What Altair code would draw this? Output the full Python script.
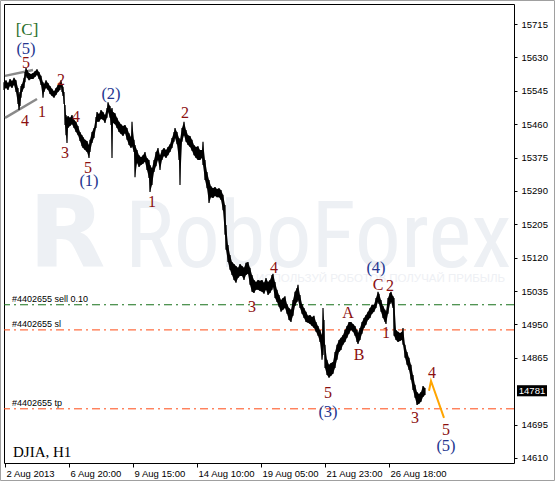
import altair as alt
import pandas as pd

# ---- DJIA H1 price bars: bar index, high, low ----
bar_idx = [0, 2, 4, 6, 8, 10, 12, 14, 15, 16, 17, 18, 20, 21, 22, 23, 25, 27, 29, 31,
           33, 35, 37, 39, 40, 42, 44, 46, 48, 50, 52, 54, 56, 57, 58, 59, 60, 61, 62, 63,
           64, 66, 68, 70, 72, 74, 76, 78, 79, 81, 83, 85, 86, 88, 90, 92, 93, 95, 97, 99,
           101, 103, 104, 106, 107, 108, 109, 111, 113, 115, 117, 119, 121, 123, 125, 127, 128, 130, 131, 133,
           135, 137, 139, 141, 143, 145, 146, 148, 150, 152, 154, 156, 158, 160, 162, 164, 166, 168, 170, 171,
           173, 175, 176, 178, 180, 182, 184, 186, 188, 190, 192, 194, 196, 198, 199, 201, 203, 205, 207, 209,
           211, 213, 215, 217, 219, 221, 222, 224, 226, 228, 230, 232, 234, 236, 238, 240, 242, 244, 246, 248,
           250, 252, 254, 256, 258, 260, 262, 264, 266, 268, 269, 271, 273, 275, 277, 279, 281, 283, 285, 287,
           289, 291, 293, 294, 296, 298, 300, 302, 304, 306, 308, 310, 312, 314, 316, 318, 319, 320, 321, 323,
           325, 327, 329, 331, 333, 335, 337, 339, 341, 343, 345, 347, 349, 351, 353, 354, 356, 358, 360, 362,
           364, 366, 368, 370, 372, 374, 375, 377, 379, 381, 382, 384, 386, 387, 389, 390, 392, 394, 396, 398,
           399, 401, 403, 405, 407, 409, 411, 413, 415, 417, 419, 421]
bar_high = [15567, 15572, 15565, 15575, 15570, 15578, 15572, 15552, 15534, 15542, 15557, 15562, 15578, 15593, 15603, 15598, 15590, 15588, 15590, 15595,
            15600, 15593, 15583, 15567, 15562, 15572, 15565, 15557, 15550, 15544, 15552, 15560, 15565, 15572, 15562, 15555, 15542, 15509, 15483, 15476,
            15481, 15476, 15483, 15471, 15466, 15455, 15440, 15432, 15427, 15420, 15417, 15407, 15420, 15440, 15450, 15478, 15491, 15486, 15496, 15491,
            15483, 15501, 15516, 15506, 15496, 15501, 15491, 15488, 15476, 15466, 15460, 15455, 15458, 15450, 15437, 15427, 15466, 15420, 15407, 15394,
            15381, 15376, 15381, 15389, 15374, 15369, 15356, 15348, 15369, 15389, 15399, 15381, 15394, 15399, 15394, 15402, 15409, 15425, 15440, 15450,
            15440, 15425, 15420, 15450, 15466, 15445, 15432, 15430, 15420, 15407, 15402, 15404, 15394, 15394, 15415, 15369, 15338, 15318, 15302, 15297,
            15300, 15295, 15297, 15292, 15280, 15254, 15203, 15152, 15127, 15109, 15104, 15099, 15094, 15104, 15099, 15094, 15107, 15109, 15094, 15076,
            15063, 15058, 15063, 15061, 15063, 15056, 15068, 15058, 15063, 15076, 15079, 15058, 15038, 15025, 15012, 15017, 15022, 15002, 14992, 14987,
            15012, 15033, 15043, 15051, 15025, 15002, 14992, 14982, 14972, 14974, 14969, 14972, 14956, 14946, 14936, 14923, 14992, 14961, 14898, 14860,
            14847, 14852, 14854, 14880, 14898, 14910, 14916, 14923, 14936, 14946, 14956, 14956, 14951, 14946, 14936, 14928, 14941, 14956, 14966, 14974,
            14982, 14992, 15000, 15000, 15017, 15033, 15028, 15012, 14997, 14987, 14982, 15017, 15030, 15033, 15022, 15017, 14936, 14931, 14928, 14931,
            14941, 14898, 14880, 14865, 14847, 14821, 14796, 14778, 14773, 14778, 14793, 14788]
bar_low = [15547, 15552, 15547, 15557, 15552, 15560, 15542, 15511, 15496, 15506, 15527, 15542, 15552, 15567, 15583, 15578, 15572, 15575, 15575, 15580,
           15585, 15575, 15560, 15527, 15542, 15552, 15547, 15537, 15532, 15527, 15534, 15542, 15547, 15555, 15542, 15532, 15511, 15458, 15432, 15412,
           15450, 15455, 15460, 15450, 15440, 15432, 15417, 15404, 15399, 15394, 15389, 15374, 15389, 15412, 15425, 15450, 15466, 15466, 15473, 15471,
           15463, 15476, 15491, 15476, 15458, 15374, 15463, 15460, 15450, 15440, 15435, 15430, 15437, 15420, 15407, 15399, 15404, 15389, 15325, 15361,
           15351, 15356, 15359, 15364, 15343, 15323, 15287, 15305, 15338, 15353, 15369, 15343, 15369, 15379, 15374, 15381, 15389, 15399, 15415, 15425,
           15409, 15369, 15305, 15415, 15432, 15415, 15407, 15402, 15392, 15381, 15374, 15369, 15369, 15374, 15356, 15318, 15297, 15259, 15274, 15272,
           15277, 15274, 15274, 15267, 15241, 15178, 15140, 15109, 15089, 15076, 15063, 15056, 15068, 15073, 15073, 15063, 15076, 15079, 15051, 15033,
           15030, 15038, 15038, 15035, 15033, 15028, 15038, 15025, 15030, 15038, 15045, 15017, 15007, 14995, 14982, 14987, 14992, 14977, 14961, 14956,
           14972, 14997, 15007, 15012, 14992, 14977, 14966, 14956, 14954, 14951, 14946, 14941, 14931, 14921, 14905, 14860, 14872, 14898, 14839, 14821,
           14814, 14819, 14824, 14839, 14860, 14880, 14885, 14898, 14905, 14916, 14926, 14936, 14931, 14921, 14905, 14900, 14910, 14926, 14941, 14949,
           14961, 14966, 14977, 14982, 14992, 15007, 15002, 14982, 14966, 14956, 14951, 14977, 15002, 15007, 14992, 14921, 14910, 14905, 14908, 14910,
           14898, 14865, 14847, 14834, 14809, 14783, 14763, 14745, 14748, 14753, 14765, 14770]
last_price = 14781

# ---- order levels ----
level_names = ["#4402655 sell 0.10", "#4402655 sl", "#4402655 tp"]
level_prices = [15000, 14936, 14735]
level_colors = ["#17701a", "#ff4a14", "#ff4a14"]

# ---- ending diagonal channel and projected path ----
channel_side = ["upper", "upper", "lower", "lower"]
channel_bar = [1, 29, 1, 33]
channel_price = [15583, 15598, 15476, 15524]

proj_bar = [425, 427, 440]
proj_price = [14781, 14806, 14712]

# ---- Elliott wave labels ----
minor_text = ["5", "4", "1", "2", "4", "3", "5", "2", "1", "4", "3", "5", "A", "B", "C", "2", "1", "3", "4", "5"]
minor_bar = [22, 21, 38, 57, 72, 61, 84, 181, 148, 270, 248, 324, 344, 355, 374, 386, 382, 411, 428, 442]
minor_price = [15616, 15468, 15491, 15572, 15478, 15387, 15348, 15488, 15262, 15094, 14995, 14775, 14979, 14872,
               15051, 15048, 14928, 14712, 14826, 14681]

inter_text = ["(5)", "(1)", "(2)", "(3)", "(4)", "(5)"]
inter_bar = [22, 85, 107, 324, 372, 442]
inter_price = [15651, 15315, 15537, 14727, 15094, 14640]

cycle_text = ["[C]"]
cycle_bar = [23]
cycle_price = [15700]

# ---- axes ----
x_tick_bars = [1, 65, 129, 193, 257, 321, 385]
x_tick_labels = ["2 Aug 2013", "6 Aug 20:00", "9 Aug 15:00", "14 Aug 10:00",
                 "19 Aug 05:00", "21 Aug 23:00", "26 Aug 18:00"]
y_ticks = [14610, 14695, 14865, 14950, 15035, 15120, 15205, 15290,
           15375, 15460, 15545, 15630, 15715]

SANS = "Liberation Sans, Arial, sans-serif"
SERIF = "Liberation Serif, Times New Roman, serif"

xs = alt.Scale(domain=[0, 510], nice=False, zero=False)
ys = alt.Scale(domain=[14597, 15766], nice=False, zero=False)

label_expr = ("[" + ",".join("'%s'" % t for t in x_tick_labels) + "][indexof(["
              + ",".join(str(v) for v in x_tick_bars) + "], datum.value)]")

x_axis = alt.Axis(values=x_tick_bars, labelExpr=label_expr, title=None, grid=False,
                  domain=False, tickSize=4, tickColor="black", labelAlign="left",
                  labelOffset=1, labelPadding=1, labelFont=SANS, labelFontSize=9.5,
                  labelColor="black", labelFlush=False, labelOverlap=False)
y_axis = alt.Axis(values=y_ticks, orient="right", format="d", title=None, grid=False,
                  domain=False, tickSize=3, tickColor="black", labelPadding=4,
                  labelFont=SANS, labelFontSize=9.5, labelColor="black",
                  labelFlush=False, labelOverlap=False)


def X(field):
    return alt.X(field, scale=xs, axis=x_axis)


def Y(field):
    return alt.Y(field, scale=ys, axis=y_axis)


one = pd.DataFrame({"k": [0]})

# faint brand watermark
wm_logo = alt.Chart(one).mark_text(
    text="R", font="DejaVu Sans", fontWeight="bold", fontSize=100, color="#edf0f4",
    align="center", baseline="alphabetic"
).encode(x=alt.value(63), y=alt.value(263))
wm_word = alt.Chart(one).mark_text(
    text="RoboForex", font="Liberation Sans Narrow, Roboto Condensed, Roboto, sans-serif",
    fontSize=92, color="#edf0f4", align="left", baseline="alphabetic"
).encode(x=alt.value(121), y=alt.value(263))
wm_tag = alt.Chart(one).mark_text(
    text="ИСПОЛЬЗУЙ РОБОТОВ ПОЛУЧАЙ ПРИБЫЛЬ", font=SANS, fontSize=11.5,
    color="#eef0f4", align="left", baseline="middle"
).encode(x=alt.value(252), y=alt.value(275))

# outer window frame
frame = alt.Chart(one).mark_rect(fillOpacity=0, stroke="#a0a0a0", strokeWidth=1).encode(
    x=alt.value(-3.5), x2=alt.value(550.5), y=alt.value(-3.5), y2=alt.value(476.5))

levels_df = pd.DataFrame({"name": level_names, "price": level_prices, "color": level_colors})
level_rules = alt.Chart(levels_df).mark_rule(strokeDash=[8, 4, 2, 4], strokeWidth=1).encode(
    y=Y("price:Q"),
    color=alt.Color("color:N", scale=None))
level_text = alt.Chart(levels_df).mark_text(
    align="left", baseline="bottom", dy=-1, font=SANS, fontSize=9, color="black"
).encode(x=alt.value(8), y=Y("price:Q"), text="name:N")

channel_df = pd.DataFrame({"side": channel_side, "bar": channel_bar, "price": channel_price})
channel = alt.Chart(channel_df).mark_line(color="#8a8a8a", strokeWidth=2.5).encode(
    x=X("bar:Q"), y=Y("price:Q"), detail="side:N")

bars_df = pd.DataFrame({"bar": bar_idx, "high": bar_high, "low": bar_low})
band = alt.Chart(bars_df).mark_area(color="black", opacity=1).encode(
    x=X("bar:Q"), y=Y("low:Q"), y2="high:Q")
ticks = alt.Chart(bars_df).mark_rule(color="black", strokeWidth=1.2).encode(
    x=X("bar:Q"), y=Y("low:Q"), y2="high:Q")

proj_df = pd.DataFrame({"bar": proj_bar, "price": proj_price})
proj = alt.Chart(proj_df).mark_line(color="#ffa500", strokeWidth=2).encode(
    x=X("bar:Q"), y=Y("price:Q"))

waves_df = pd.concat([
    pd.DataFrame({"t": minor_text, "bar": minor_bar, "price": minor_price, "degree": "minor"}),
    pd.DataFrame({"t": inter_text, "bar": inter_bar, "price": inter_price, "degree": "intermediate"}),
    pd.DataFrame({"t": cycle_text, "bar": cycle_bar, "price": cycle_price, "degree": "cycle"}),
], ignore_index=True)
waves = alt.Chart(waves_df).mark_text(font=SERIF, baseline="middle", align="center").encode(
    x=X("bar:Q"),
    y=Y("price:Q"),
    text="t:N",
    color=alt.Color("degree:N", legend=None,
                    scale=alt.Scale(domain=["minor", "intermediate", "cycle"],
                                    range=["#8b0f0f", "#25358f", "#2a6e2a"])),
    size=alt.Size("degree:N", legend=None,
                  scale=alt.Scale(domain=["minor", "intermediate", "cycle"], range=[16, 17, 17])))

symbol_df = pd.DataFrame({"t": ["DJIA, H1"]})
symbol = alt.Chart(symbol_df).mark_text(
    font=SERIF, fontSize=15, color="black", align="left", baseline="middle"
).encode(x=alt.value(9), y=alt.value(448), text="t:N")

cur_df = pd.DataFrame({"price": [last_price], "label": [str(last_price)]})
cur_box = alt.Chart(cur_df).mark_point(
    shape="M-1,-0.37H1V0.37H-1Z", size=900, filled=True, color="black", opacity=1, strokeWidth=0
).encode(x=alt.value(528), y=Y("price:Q"))
cur_text = alt.Chart(cur_df).mark_text(
    font=SANS, fontSize=9.5, color="white", align="center", baseline="middle"
).encode(x=alt.value(528), y=Y("price:Q"), text="label:N")

chart = alt.layer(
    wm_logo, wm_word, wm_tag, frame, channel, level_rules, level_text,
    band, ticks, proj, waves, symbol, cur_box, cur_text
).properties(
    width=510, height=459,
    autosize=alt.AutoSizeParams(type="none"),
    padding={"left": 4, "top": 4, "right": 42, "bottom": 20},
    background="white"
).configure_view(stroke="black", strokeWidth=1)

chart.save("out.html", embed_options={"renderer": "svg", "actions": False})
